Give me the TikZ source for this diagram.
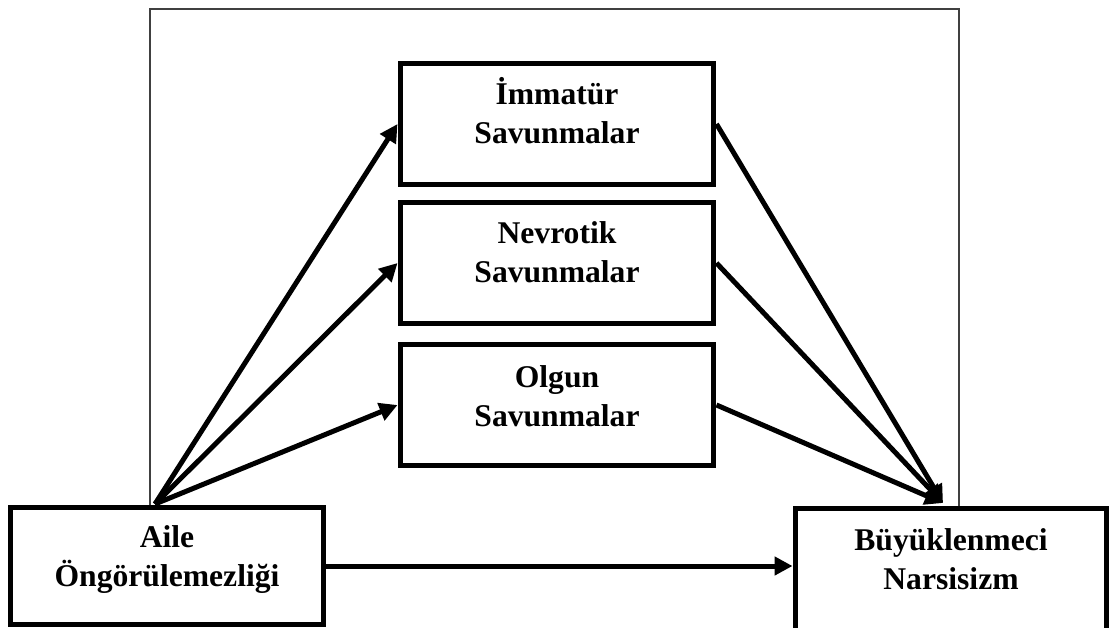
\documentclass[tikz,border=0pt]{standalone}
\usepackage{fontspec}
\setmainfont{Liberation Serif}
\usetikzlibrary{arrows.meta}

\begin{document}
\begin{tikzpicture}
  [x=0.02cm,y=-0.02cm,every node/.style={inner sep=0pt}]

  \tikzset{
  box/.style = {draw,line width=0.1cm,minimum width=6.28cm,minimum height=2.42cm},
  txt/.style = {align=center,font=\fontsize{18}{22.2}\selectfont\bfseries},
  link/.style = {line width=0.1cm,-{Triangle[length=0.36cm,width=0.36cm]}},
  frame/.style = {line width=0.7pt,black!75}
  }

  \useasboundingbox (0,0) rectangle (1111,628);
  \clip (0,0) rectangle (1111,628);

  \draw[frame] (150,505) |- (959,9) -- (959,506);

  \node[box] (imm) at (557,124) {};
  \node[box] (nev) at (557,263) {};
  \node[box] (olg) at (557,405) {};
  \node[box,minimum width=6.26cm,minimum height=2.34cm] (aile) at (167,566) {};
  \node[box,minimum width=6.24cm,minimum height=2.56cm] (buy) at (951,572.5) {};

  \node[txt] (imm-t) at (557,111) {İmmatür\\Savunmalar};
  \node[txt] (nev-t) at (557,252) {Nevrotik\\Savunmalar};
  \node[txt] (olg-t) at (557,396) {Olgun\\Savunmalar};
  \node[txt] (aile-t) at (167,560) {Aile\\Öngörülemezliği};
  \node[txt] (buy-t) at (951,559) {Büyüklenmeci\\Narsisizm};

  \coordinate (src) at (155,504);
  \coordinate (snk) at (943,503);

  \foreach \to in {imm,nev,olg}
    \draw[link] (src) -- (\to.west);
  \foreach \from in {imm,nev,olg}
    \draw[link] (\from.east) -- (snk);
  \draw[link] (aile.east) -- (buy.west |- aile.east);

\end{tikzpicture}
\end{document}
